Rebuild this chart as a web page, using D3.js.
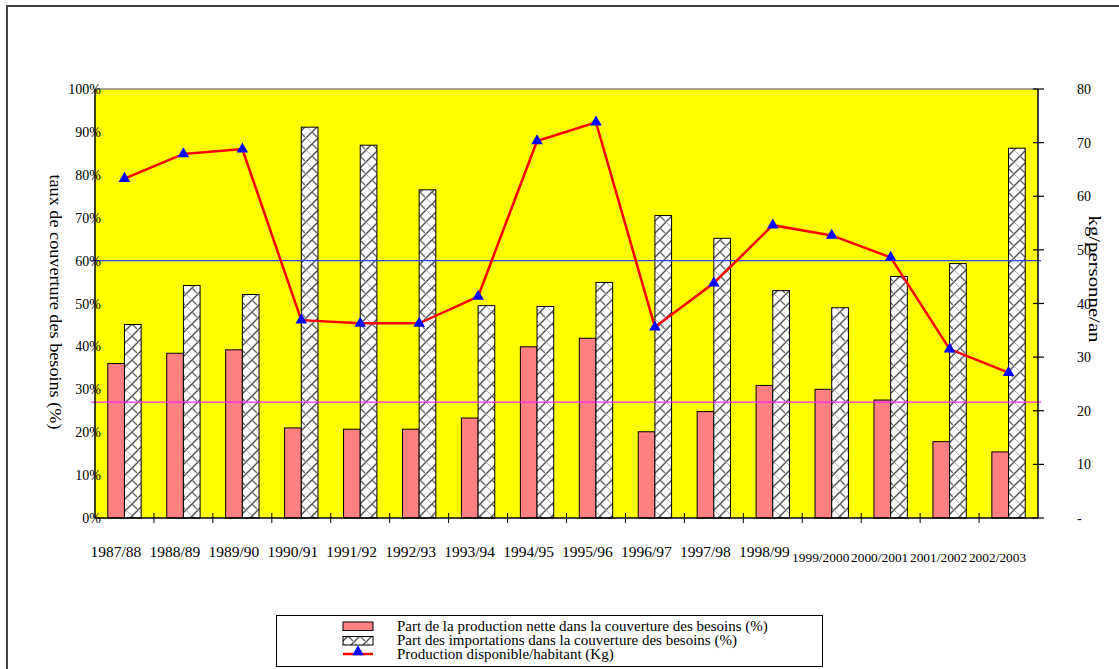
<!DOCTYPE html>
<html><head><meta charset="utf-8">
<script src="https://cdn.jsdelivr.net/npm/d3@7"></script>
<style>
body{margin:0;background:#fff}
svg{display:block}
text{font-family:"Liberation Serif","Times New Roman",serif;fill:#000}
</style>
</head><body><script>
const categories = ["1987/88","1988/89","1989/90","1990/91","1991/92","1992/93","1993/94","1994/95","1995/96","1996/97","1997/98","1998/99","1999/2000","2000/2001","2001/2002","2002/2003"];
const productionShare = [36.0,38.4,39.2,21.0,20.7,20.7,23.3,39.9,41.9,20.1,24.8,30.9,30.0,27.5,17.8,15.4];
const importShare = [45.1,54.2,52.1,91.1,86.9,76.5,49.5,49.3,54.9,70.5,65.2,53.0,49.0,56.3,59.3,86.2];
const availablePerCapita = [63.3,67.9,68.8,36.9,36.3,36.3,41.3,70.3,73.8,35.6,43.8,54.6,52.7,48.6,31.5,27.1];
const leftTicks = [0,10,20,30,40,50,60,70,80,90,100];
const leftTickLabels = ["0%","10%","20%","30%","40%","50%","60%","70%","80%","90%","100%"];
const rightTicks = [0,10,20,30,40,50,60,70,80];
const rightTickLabels = ["-","10","20","30","40","50","60","70","80"];
const refLineValues = [60, 27];
const refLineColors = ["#3344ee","#ff22ff"];
const seriesNames = ["Part de la production nette dans la couverture des besoins (%)","Part des importations dans la couverture des besoins (%)","Production disponible/habitant (Kg)"];
const leftTitle = "taux de couverture des besoins (%)";
const rightTitle = "kg/personne/an";

const W = 1119, H = 669;
const L = 95, R = 1038, T = 89, B = 518;

const svg = d3.select("body").append("svg").attr("width", W).attr("height", H);
const defs = svg.append("defs");
const P = 12;
const pat = defs.append("pattern").attr("id","hatch").attr("patternUnits","userSpaceOnUse")
  .attr("width",P).attr("height",P);
pat.append("rect").attr("width",P).attr("height",P).attr("fill","#fff");
pat.append("path").attr("d",`M-1,${P+1} L${P+1},-1`).attr("stroke","#555").attr("stroke-width",1.5);
pat.append("path").attr("d",`M0,0 L${P/2-1},${P/2-1}`).attr("stroke","#666").attr("stroke-width",1.3);
pat.append("path").attr("d",`M${P/2+1},${P/2+1} L${P},${P}`).attr("stroke","#aaa").attr("stroke-width",1);

// outer frame
svg.append("path").attr("d",`M7,${H} L7,6 L${W},6`).attr("fill","none").attr("stroke","#404040").attr("stroke-width",2);

const x = d3.scaleBand().domain(categories).range([L,R]).padding(0);
const yL = d3.scaleLinear().domain([0,100]).range([B,T]);
const yR = d3.scaleLinear().domain([0,80]).range([B,T]);

// plot background
svg.append("rect").attr("x",L).attr("y",T).attr("width",R-L).attr("height",B-T).attr("fill","#ffff00");
svg.append("line").attr("x1",L).attr("x2",R).attr("y1",T).attr("y2",T).attr("stroke","#888").attr("stroke-width",1.5);

const bw = x.bandwidth()*0.283;
const g = svg.append("g");
g.selectAll("rect.prod").data(productionShare).join("rect").attr("class","prod")
  .attr("x",(d,i)=>x(categories[i])+x.bandwidth()/2-bw)
  .attr("y",d=>yL(d)).attr("width",bw).attr("height",d=>B-yL(d))
  .attr("fill","#ff8080").attr("stroke","#000").attr("stroke-width",1);
g.selectAll("rect.imp").data(importShare).join("rect").attr("class","imp")
  .attr("x",(d,i)=>x(categories[i])+x.bandwidth()/2)
  .attr("y",d=>yL(d)).attr("width",bw).attr("height",d=>B-yL(d))
  .attr("fill","url(#hatch)").attr("stroke","#000").attr("stroke-width",1);

// reference lines
refLineValues.forEach((v,i)=>{
  svg.append("line").attr("x1",91).attr("x2",1041).attr("y1",yL(v)).attr("y2",yL(v))
    .attr("stroke",refLineColors[i]).attr("stroke-width",1.3);
});

// axes lines
svg.append("line").attr("x1",L).attr("x2",L).attr("y1",T).attr("y2",B).attr("stroke","#000").attr("stroke-width",1.5);
svg.append("line").attr("x1",L).attr("x2",R).attr("y1",B).attr("y2",B).attr("stroke","#000").attr("stroke-width",1.5);
svg.append("line").attr("x1",R).attr("x2",R).attr("y1",T).attr("y2",B).attr("stroke","#000").attr("stroke-width",1.5);

// category ticks
categories.slice(1).forEach(c=>{
  svg.append("line").attr("x1",x(c)).attr("x2",x(c)).attr("y1",B-5).attr("y2",B+5).attr("stroke","#000").attr("stroke-width",1);
});
// right ticks
rightTicks.forEach(v=>{
  svg.append("line").attr("x1",R-5).attr("x2",R+6).attr("y1",yR(v)).attr("y2",yR(v)).attr("stroke","#000").attr("stroke-width",1.2);
});

// line series
const line = d3.line().x((d,i)=>x(categories[i])+x.bandwidth()/2).y(d=>yR(d));
svg.append("path").datum(availablePerCapita).attr("d",line).attr("fill","none").attr("stroke","#ff0000").attr("stroke-width",2.5);
const tri = d3.symbol().type(d3.symbolTriangle).size(58);
svg.selectAll("path.mk").data(availablePerCapita).join("path").attr("class","mk")
  .attr("d",tri).attr("transform",(d,i)=>`translate(${x(categories[i])+x.bandwidth()/2},${yR(d)})`)
  .attr("fill","#0000ff");

// left tick labels
svg.selectAll("text.lt").data(leftTicks).join("text").attr("class","lt")
  .attr("x",101).attr("y",d=>yL(d)+5).attr("text-anchor","end").attr("font-size",14)
  .text((d,i)=>leftTickLabels[i]);
// right tick labels
svg.selectAll("text.rt").data(rightTicks).join("text").attr("class","rt")
  .attr("x",1077).attr("y",d=>yR(d)+5).attr("font-size",14)
  .text((d,i)=>rightTickLabels[i]);
// category labels
svg.selectAll("text.cl").data(categories).join("text").attr("class","cl")
  .attr("x",d=>x(d)+x.bandwidth()/2-(d.length>7?11:8.5))
  .attr("y",d=>d.length>7?562:557).attr("text-anchor","middle")
  .attr("font-size",d=>d.length>7?13.4:15.5)
  .text(d=>d);

// axis titles
svg.append("text").attr("transform",`translate(50,302) rotate(90)`).attr("text-anchor","middle")
  .attr("font-size",17).attr("textLength",255).attr("lengthAdjust","spacingAndGlyphs").text(leftTitle);
svg.append("text").attr("transform",`translate(1089,279) rotate(90)`).attr("text-anchor","middle")
  .attr("font-size",17).attr("textLength",127).attr("lengthAdjust","spacingAndGlyphs").text(rightTitle);

// legend
svg.append("rect").attr("x",276.5).attr("y",615.5).attr("width",546).attr("height",51).attr("fill","#fff").attr("stroke","#000").attr("stroke-width",1);
svg.append("rect").attr("x",343).attr("y",622).attr("width",30).attr("height",8.5).attr("fill","#ff8080").attr("stroke","#000");
svg.append("rect").attr("x",343).attr("y",636.5).attr("width",30).attr("height",8.5).attr("fill","url(#hatch)").attr("stroke","#000");
svg.append("line").attr("x1",343).attr("x2",373).attr("y1",654).attr("y2",654).attr("stroke","#ff0000").attr("stroke-width",2.5);
svg.append("path").attr("d",tri).attr("transform","translate(358,652)").attr("fill","#0000ff");
seriesNames.forEach((s,i)=>{
  svg.append("text").attr("x",397).attr("y",631+i*14).attr("font-size",15).text(s);
});
</script></body></html>
